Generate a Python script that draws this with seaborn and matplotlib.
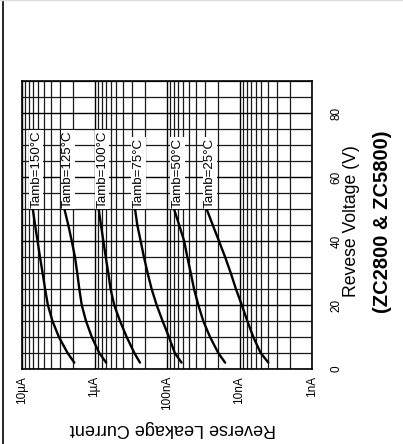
import numpy as np
import pandas as pd
import matplotlib
matplotlib.use("Agg")
import matplotlib.pyplot as plt
import seaborn as sns
from matplotlib.ticker import LogLocator, MultipleLocator, NullFormatter, FixedLocator
from matplotlib.lines import Line2D

# reverse voltage (V) at which each curve was read
voltage = [50, 45, 40, 35, 30, 25, 20, 15, 10, 5, 2]

# reverse leakage current in nA for each ambient temperature
i_150 = [7100, 6600, 6100, 5650, 5200, 4800, 4400, 3800, 3100, 2350, 1900]
i_125 = [2600, 2300, 2060, 1860, 1730, 1620, 1500, 1310, 1090, 860, 690]
i_100 = [875, 815, 755, 700, 645, 600, 535, 445, 360, 282, 236]
i_75 = [276, 257, 231, 208, 185, 163, 139, 115, 94, 78, 63]
i_50 = [80, 68, 58, 52.5, 47, 42.4, 37, 31.6, 25.5, 19.6, 15.8]
i_25 = [28.4, 23.4, 19.2, 15.8, 13.2, 11.2, 9.3, 7.8, 6.45, 5.1, 4.0]

curve_labels = ['Tamb=150°C', 'Tamb=125°C', 'Tamb=100°C', 'Tamb=75°C', 'Tamb=50°C', 'Tamb=25°C']
currents = [i_150, i_125, i_100, i_75, i_50, i_25]

current_ticks = [10000, 1000, 100, 10, 1]
current_ticklabels = ['10µA', '1µA', '100nA', '10nA', '1nA']
voltage_ticks = [0, 20, 40, 60, 80]

rows = []
for lab, cur in zip(curve_labels, currents):
    for v, c in zip(voltage, cur):
        rows.append({'curve': lab, 'V': v, 'I': c})
df = pd.DataFrame(rows)

sns.set_style('white')
plt.rcParams['font.family'] = ['Liberation Sans', 'DejaVu Sans']
plt.rcParams['text.color'] = 'black'
plt.rcParams['xtick.color'] = 'black'
plt.rcParams['ytick.color'] = 'black'

fig = plt.figure(figsize=(4.03, 4.44), dpi=100)
ax = fig.add_axes([22 / 403, 75 / 444, 290 / 403, 288 / 444])

sns.lineplot(data=df, x='I', y='V', hue='curve', palette=['black'] * 6,
             legend=False, linewidth=1.7, ax=ax, zorder=4)

ax.set_xscale('log')
ax.set_xlim(10000, 1)
ax.set_ylim(0, 90)

ax.xaxis.set_major_locator(FixedLocator(current_ticks))
ax.set_xticklabels(current_ticklabels)
ax.xaxis.set_minor_locator(LogLocator(base=10, subs=range(2, 10)))
ax.xaxis.set_minor_formatter(NullFormatter())
ax.yaxis.set_major_locator(FixedLocator(voltage_ticks))
ax.yaxis.set_minor_locator(MultipleLocator(5))
ax.yaxis.tick_right()

ax.grid(True, which='major', color='black', linewidth=1.0)
ax.grid(True, which='minor', color='#1a1a1a', linewidth=0.9)
ax.set_axisbelow(True)
ax.tick_params(which='both', length=0)
ax.tick_params(axis='x', pad=5, labelsize=8.5, labelrotation=90, labelcolor='black')
ax.tick_params(axis='y', pad=13.5, labelsize=8.5, labelrotation=90, labelcolor='black')
for t in ax.get_xticklabels():
    t.set_va('top')
for t in ax.get_yticklabels():
    t.set_va('center')
for s in ax.spines.values():
    s.set_color('black')
    s.set_linewidth(1.2)
ax.set_xlabel('')
ax.set_ylabel('')

for lab, cur in zip(curve_labels, currents):
    ax.annotate(lab, xy=(cur[0], voltage[0]), xytext=(2.5, 0.5),
                textcoords='offset points', rotation=90, ha='center', va='bottom',
                fontsize=9.6, color='black', zorder=5,
                bbox=dict(facecolor='white', edgecolor='none', pad=0.8))

fig.text(173 / 403, 1 - 428 / 444, 'Reverse Leakage Current', rotation=180,
         ha='center', va='center', fontsize=13, color='black')
fig.text(352 / 403, 1 - 221 / 444, 'Revese Voltage (V)', rotation=90,
         ha='center', va='center', fontsize=12.7, color='black')
fig.text(383 / 403, 1 - 222 / 444, '(ZC2800 & ZC5800)', rotation=90,
         ha='center', va='center', fontsize=14.5, fontweight='bold', color='black')

fig.add_artist(Line2D([2.5 / 403, 2.5 / 403], [0, 1], color='black', linewidth=1.2,
                      transform=fig.transFigure))
fig.add_artist(Line2D([0, 1], [1 - 0.5 / 444, 1 - 0.5 / 444], color='#dddddd',
                      linewidth=1.0, transform=fig.transFigure))

fig.savefig('out.png', dpi=100)
